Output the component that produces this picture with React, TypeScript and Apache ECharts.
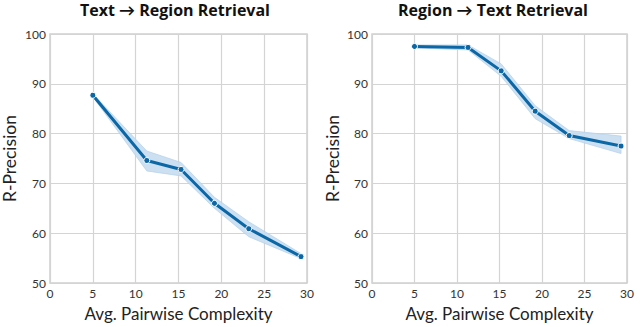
import React, { useEffect, useRef } from "react";
import * as echarts from "echarts";

const titles = ["Text → Region Retrieval", "Region → Text Retrieval"];
const xTicks = [0, 5, 10, 15, 20, 25, 30];
const yTicks = [50, 60, 70, 80, 90, 100];

const leftX = [5.0, 11.3, 15.3, 19.2, 23.2, 29.3];
const leftY = [87.7, 74.6, 72.8, 66.0, 60.9, 55.3];
const leftLo = [87.4, 72.5, 71.5, 65.0, 59.3, 54.9];
const leftHi = [88.0, 76.5, 74.2, 67.2, 62.3, 55.9];

const rightX = [5.0, 11.3, 15.2, 19.2, 23.2, 29.3];
const rightY = [97.5, 97.3, 92.6, 84.5, 79.6, 77.5];
const rightLo = [97.2, 96.8, 91.5, 83.0, 79.0, 76.0];
const rightHi = [97.8, 97.8, 94.0, 85.6, 80.6, 79.5];

const LINE = "#0b67a6";
const BAND = "#c6ddef";
const FONT = "Lato, 'Open Sans', sans-serif";

export default function App() {
  const ref = useRef<HTMLDivElement>(null);
  useEffect(() => {
    if (!ref.current) return;
    const chart = echarts.init(ref.current, undefined, { renderer: "svg" });
    const grids = [
      { left: 50, top: 34, width: 257, height: 249 },
      { left: 372, top: 34, width: 255, height: 249 },
    ];
    const sets = [
      { x: leftX, y: leftY, lo: leftLo, hi: leftHi },
      { x: rightX, y: rightY, lo: rightLo, hi: rightHi },
    ];
    const series: any[] = [];
    sets.forEach((s, i) => {
      const bandData = s.x.map((x, k) => [x, s.lo[k], s.hi[k]]);
      series.push({
        type: "custom",
        xAxisIndex: i,
        yAxisIndex: i,
        silent: true,
        z: 1,
        encode: { x: 0, y: [1, 2] },
        data: bandData,
        renderItem: (params: any, api: any) => {
          if (params.dataIndex !== 0) return null;
          const upper = bandData.map((d) => api.coord([d[0], d[2]]));
          const lower = bandData.map((d) => api.coord([d[0], d[1]])).reverse();
          return {
            type: "polygon",
            shape: { points: upper.concat(lower) },
            style: { fill: BAND, stroke: "#b3d1ea", lineWidth: 0.8, opacity: 0.9 },
          };
        },
      });
      series.push({
        type: "line",
        xAxisIndex: i,
        yAxisIndex: i,
        data: s.x.map((x, k) => [x, s.y[k]]),
        lineStyle: { color: LINE, width: 3 },
        itemStyle: { color: LINE, borderColor: "#ffffff", borderWidth: 1 },
        symbol: "circle",
        symbolSize: 6,
        showSymbol: true,
        z: 5,
      });
    });
    const xAxis = grids.map((_, i) => ({
      type: "value",
      gridIndex: i,
      min: xTicks[0],
      max: xTicks[xTicks.length - 1],
      interval: 5,
      name: "Avg. Pairwise Complexity",
      nameLocation: "middle",
      nameGap: 22,
      nameTextStyle: { fontFamily: FONT, fontSize: 17, color: "#222" },
      axisLine: { show: false },
      axisTick: { show: false },
      axisLabel: { fontFamily: FONT, fontSize: 12, color: "#333", margin: 4 },
      splitLine: { show: true, lineStyle: { color: "#d4d4d4", width: 1.2 } },
      z: 0,
    }));
    const yAxis = grids.map((_, i) => ({
      type: "value",
      gridIndex: i,
      min: yTicks[0],
      max: yTicks[yTicks.length - 1],
      interval: 10,
      name: "R-Precision",
      nameLocation: "middle",
      nameGap: i === 0 ? 32 : 31,
      nameTextStyle: { fontFamily: FONT, fontSize: 17.5, color: "#222" },
      axisLine: { show: false },
      axisTick: { show: false },
      axisLabel: { fontFamily: FONT, fontSize: 12, color: "#333", margin: 4 },
      splitLine: { show: true, lineStyle: { color: "#d4d4d4", width: 1.2 } },
      z: 0,
    }));
    chart.setOption({
      animation: false,
      backgroundColor: "#ffffff",
      title: titles.map((t, i) => ({
        text: t,
        left: i === 0 ? 170 : 488,
        top: -3,
        textAlign: "center",
        textStyle: { fontFamily: "'Open Sans', Lato, sans-serif", fontSize: 16, fontWeight: "bold", color: "#111" },
      })),
      grid: grids.map((g) => ({
        ...g,
        show: true,
        containLabel: false,
        outerBoundsMode: "none",
        borderColor: "#cfcfcf",
        borderWidth: 1.5,
        backgroundColor: "transparent",
      })),
      xAxis,
      yAxis,
      series,
    });
    return () => chart.dispose();
  }, []);
  return (
    <div
      ref={ref}
      style={{ position: "fixed", left: 0, top: 0, width: 640, height: 327 }}
    />
  );
}
